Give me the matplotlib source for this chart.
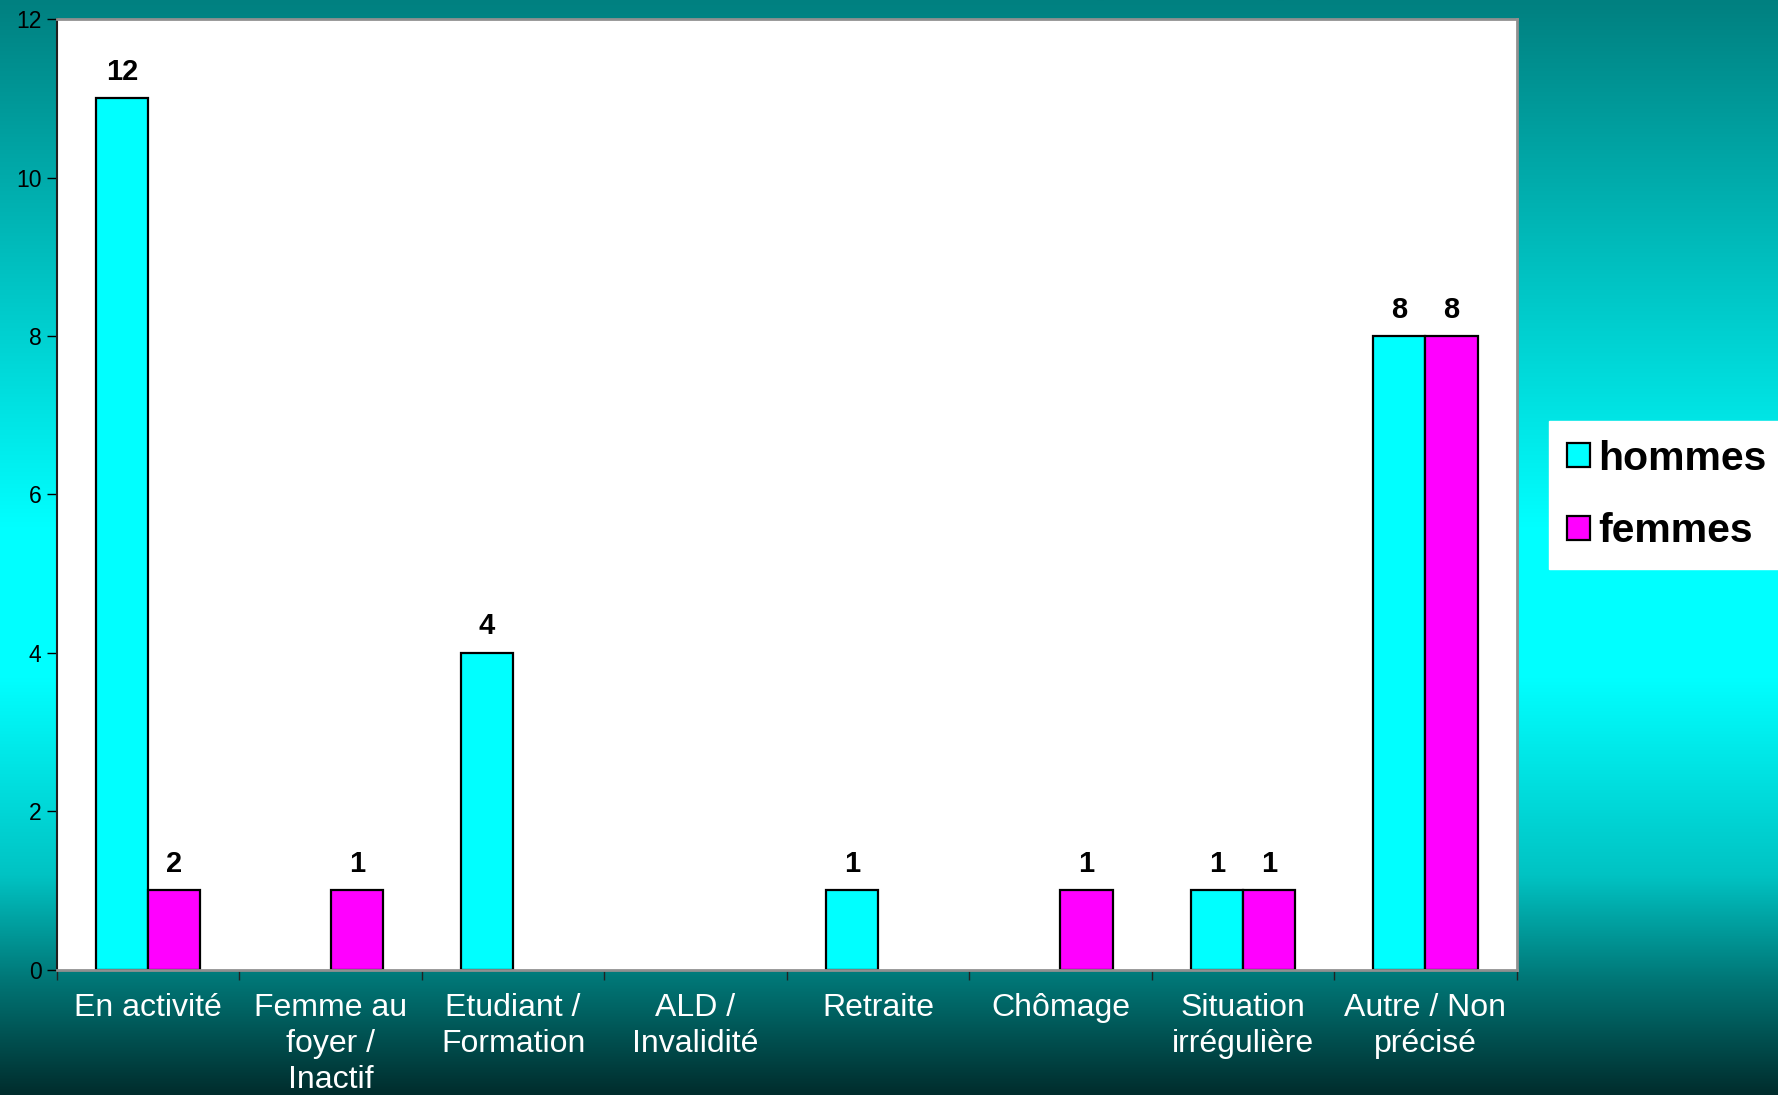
import matplotlib.pyplot as plt
import numpy as np

plt.rcParams['font.family'] = ['Liberation Sans', 'DejaVu Sans']

categories = ['En activité', 'Femme au\nfoyer /\nInactif', 'Etudiant /\nFormation',
              'ALD /\nInvalidité', 'Retraite', 'Chômage', 'Situation\nirrégulière',
              'Autre / Non\nprécisé']
# bar heights as drawn, and the labels printed above them (they differ in the original)
hommes = [11, 0, 4, 0, 1, 0, 1, 8]
femmes = [1, 1, 0, 0, 0, 1, 1, 8]
hommes_labels = ['12', '', '4', '', '1', '', '1', '8']
femmes_labels = ['2', '1', '', '', '', '1', '1', '8']
yticks = [0, 2, 4, 6, 8, 10, 12]

fig = plt.figure(figsize=(17.78, 10.95), dpi=100)

# background gradient teal -> cyan -> dark
bg = fig.add_axes([0, 0, 1, 1])
stops = np.array([0.0, 0.48, 0.62, 0.80, 0.90, 1.0])
g = np.array([128, 255, 255, 195, 115, 45])
ys = np.linspace(0, 1, 400)
gv = np.interp(ys, stops, g) / 255.0
img = np.zeros((400, 1, 3))
img[:, 0, 1] = gv
img[:, 0, 2] = gv
bg.imshow(img, aspect='auto', extent=[0, 1, 1, 0])
bg.set_axis_off()

ax = fig.add_axes([0.032, 0.1146, 0.821, 0.8678])
ax.set_facecolor('white')
x = np.arange(len(categories))
w = 0.286
b1 = ax.bar(x - w / 2, hommes, w, color='#00FFFF', edgecolor='black', linewidth=1.6, label='hommes')
b2 = ax.bar(x + w / 2, femmes, w, color='#FF00FF', edgecolor='black', linewidth=1.6, label='femmes')
for bars, labs in ((b1, hommes_labels), (b2, femmes_labels)):
    for rect, lab in zip(bars, labs):
        if rect.get_height() == 0:
            rect.set_visible(False)
        if lab:
            ax.annotate(lab, (rect.get_x() + rect.get_width() / 2, rect.get_height()),
                        xytext=(0, 9), textcoords='offset points', ha='center', va='bottom',
                        fontsize=21, fontweight='bold', color='black')

ax.set_xlim(-0.5, len(categories) - 0.5)
ax.set_ylim(0, 12)
ax.set_yticks(yticks)
ax.tick_params(axis='y', direction='out', length=7, width=1, labelsize=16.5, colors='black', pad=4)
ax.set_xticks(x)
ax.set_xticklabels(categories, color='white', fontsize=23, linespacing=1.25)
ax.set_xticks(np.arange(-0.5, len(categories)), minor=True)
ax.tick_params(axis='x', which='major', length=0, pad=17)
ax.tick_params(axis='x', which='minor', direction='out', length=7, width=1, color='#222222')
for s in ('top', 'right', 'bottom'):
    ax.spines[s].set_color('#909090')
    ax.spines[s].set_linewidth(2)
ax.spines['left'].set_color('#202020')
ax.spines['left'].set_linewidth(1.5)

leg = fig.legend(handles=[b1, b2], loc='center left', bbox_to_anchor=(0.871, 0.548),
                 frameon=True, fancybox=False, edgecolor='white', facecolor='white', framealpha=1,
                 prop={'size': 29.5, 'weight': 'bold'}, handlelength=0.55, handleheight=0.55,
                 handletextpad=0.2, labelspacing=0.85, borderpad=0.45, borderaxespad=0)

fig.savefig('out.png', dpi=100)
